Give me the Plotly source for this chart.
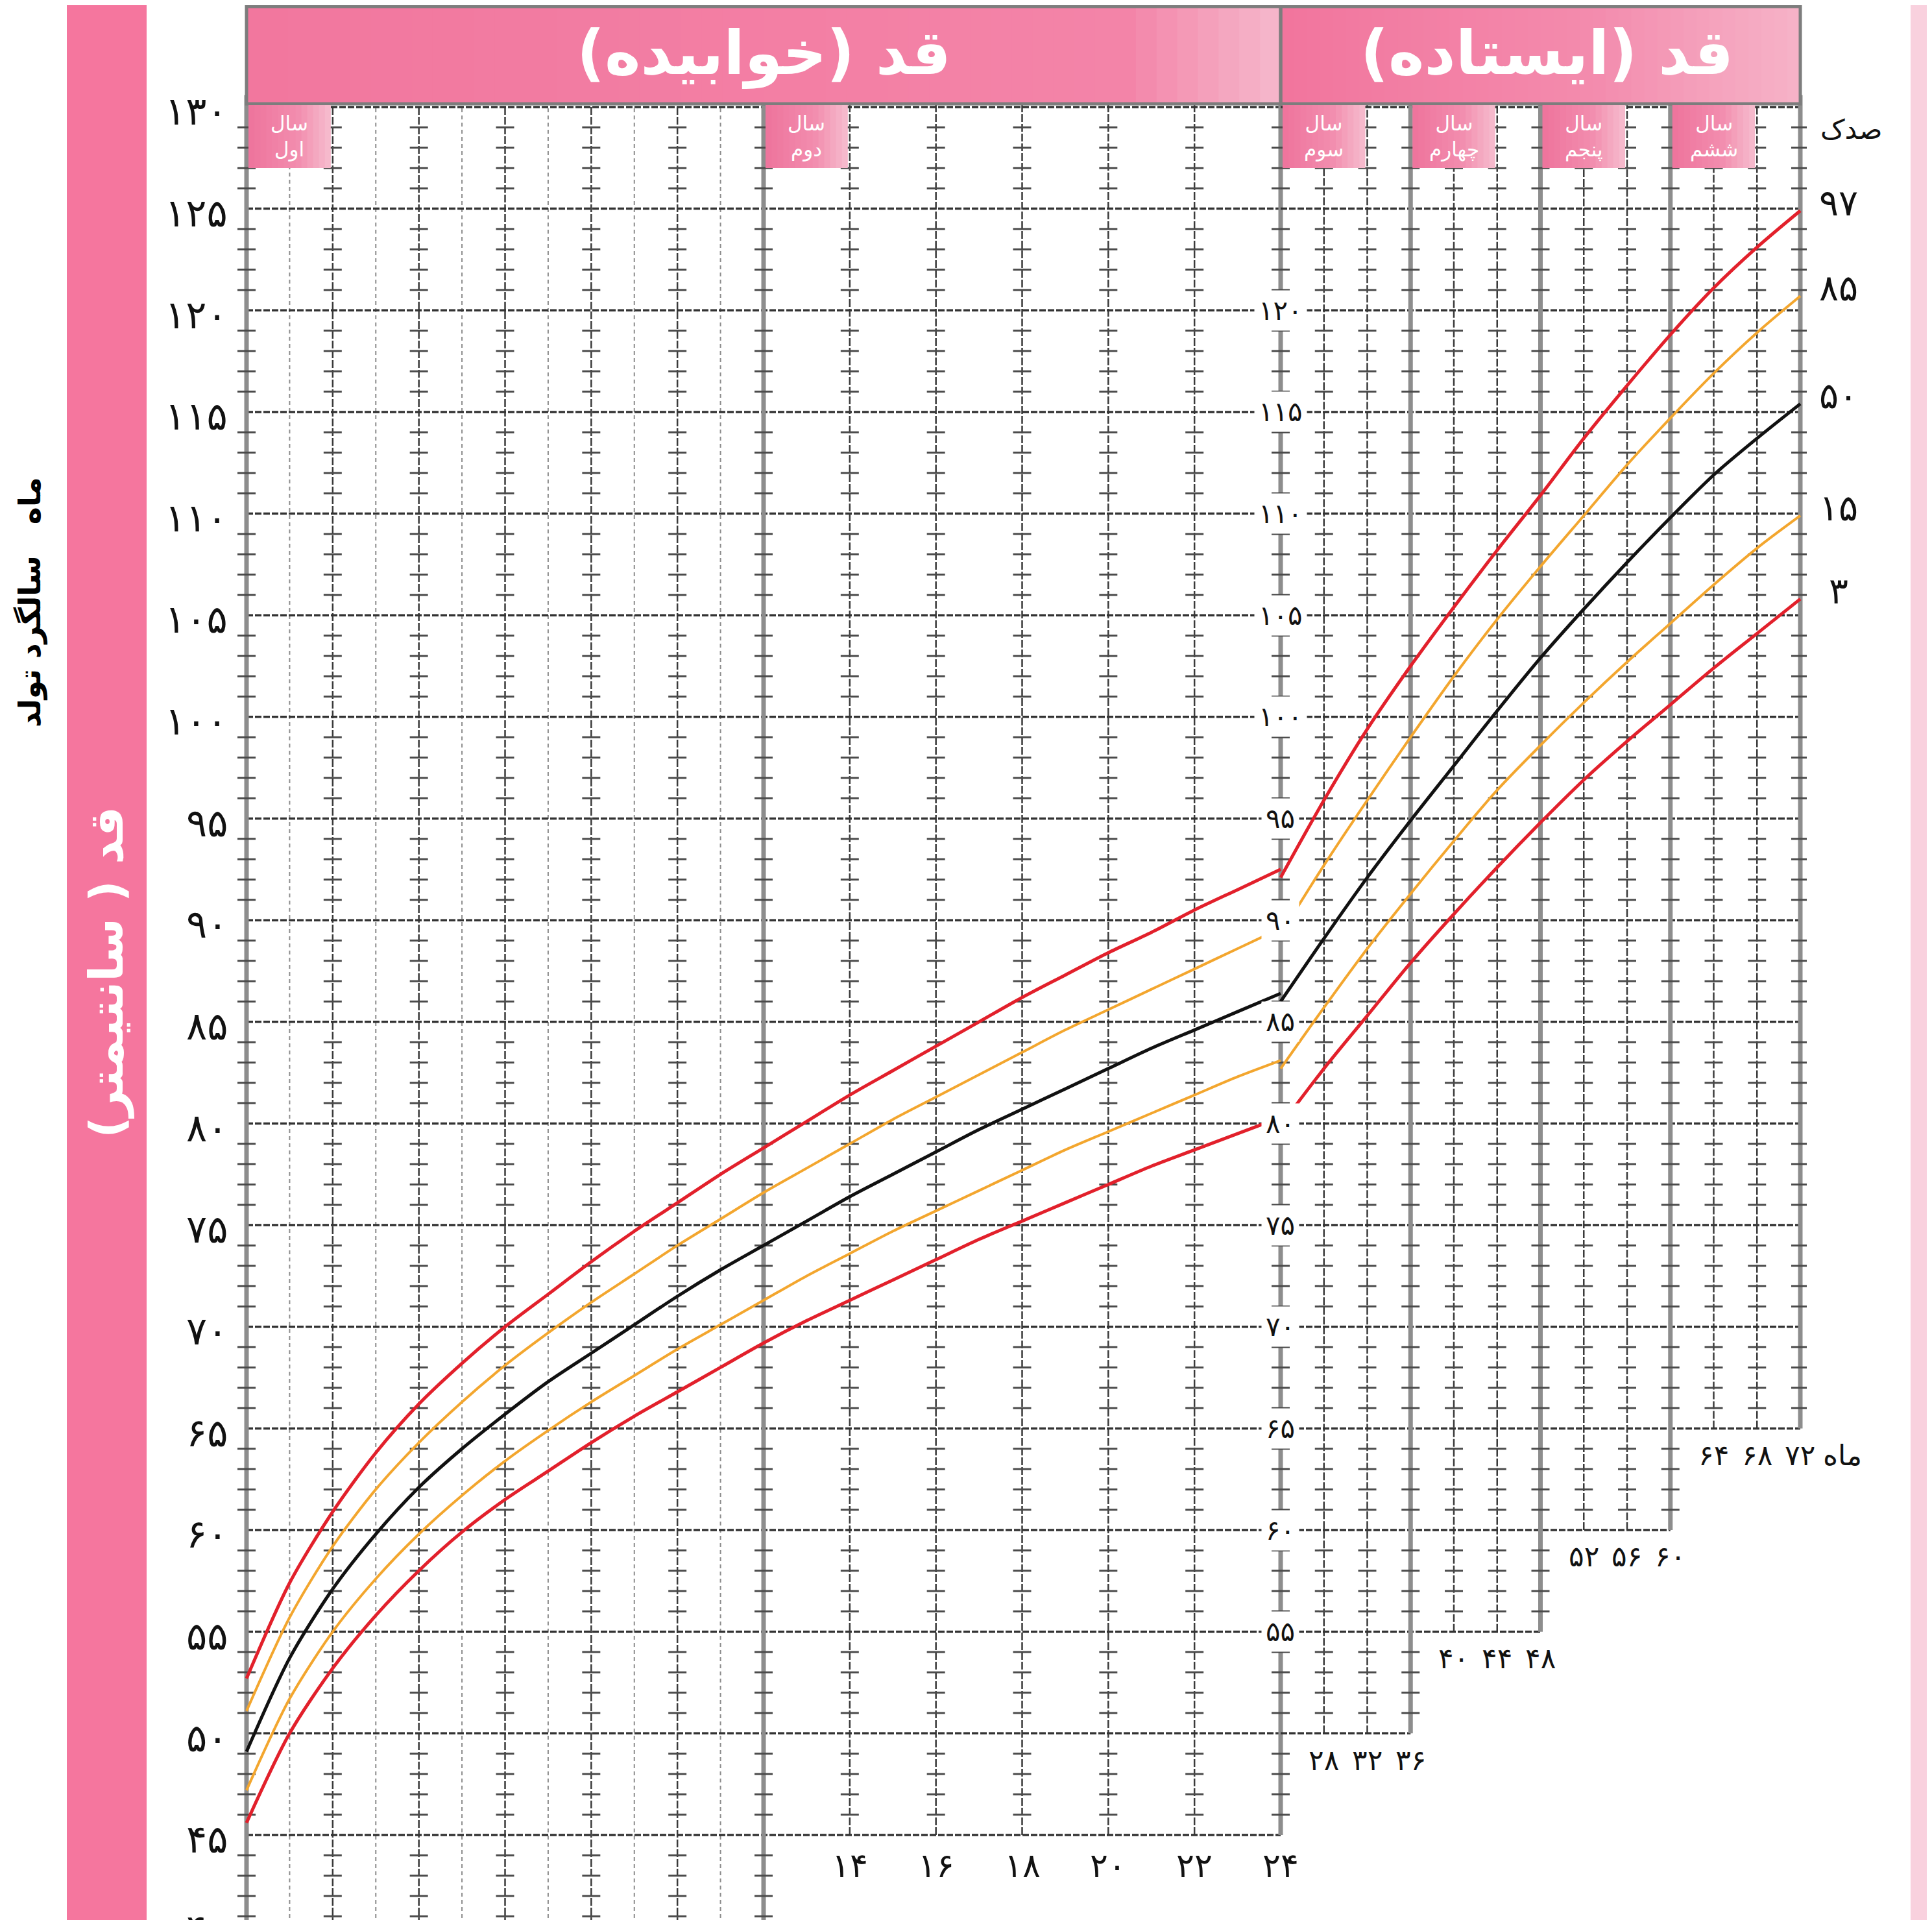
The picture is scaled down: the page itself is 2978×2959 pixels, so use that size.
import plotly.graph_objects as go

W, H = 2978, 2959

# ---------------- data ----------------
months_lying = list(range(0, 25))
p3_lying = [45.6, 50.0, 53.2, 55.8, 58.0, 59.9, 61.5, 62.9, 64.3, 65.6, 66.8, 68.0, 69.2,
            70.3, 71.3, 72.3, 73.3, 74.3, 75.2, 76.1, 77.0, 77.9, 78.7, 79.5, 80.3]
p15_lying = [47.2, 51.7, 55.0, 57.6, 59.8, 61.7, 63.4, 64.9, 66.3, 67.6, 68.9, 70.1, 71.3,
             72.5, 73.6, 74.7, 75.7, 76.7, 77.7, 78.7, 79.6, 80.5, 81.4, 82.3, 83.1]
p50_lying = [49.1, 53.7, 57.1, 59.8, 62.1, 64.0, 65.7, 67.3, 68.7, 70.1, 71.5, 72.8, 74.0,
             75.2, 76.4, 77.5, 78.6, 79.7, 80.7, 81.7, 82.7, 83.7, 84.6, 85.5, 86.4]
p85_lying = [51.1, 55.7, 59.2, 62.0, 64.3, 66.3, 68.1, 69.7, 71.2, 72.6, 74.0, 75.3, 76.6,
             77.8, 79.0, 80.2, 81.3, 82.4, 83.5, 84.6, 85.6, 86.6, 87.6, 88.6, 89.6]
p97_lying = [52.7, 57.4, 60.9, 63.8, 66.2, 68.2, 70.0, 71.6, 73.2, 74.7, 76.1, 77.5, 78.8,
             80.1, 81.4, 82.6, 83.8, 85.0, 86.2, 87.3, 88.4, 89.4, 90.5, 91.5, 92.5]

months_standing = [24, 28, 32, 36, 40, 44, 48, 52, 56, 60, 64, 68, 72]
p3_standing = [79.9, 82.7, 85.3, 87.9, 90.3, 92.6, 94.8, 96.9, 98.8, 100.6, 102.4, 104.1, 105.8]
p15_standing = [82.7, 85.7, 88.6, 91.3, 93.9, 96.4, 98.6, 100.7, 102.7, 104.6, 106.5, 108.3, 109.9]
p50_standing = [86.0, 89.1, 92.1, 94.9, 97.6, 100.3, 102.9, 105.3, 107.6, 109.8, 111.9, 113.7, 115.4]
p85_standing = [89.3, 92.7, 95.9, 99.0, 102.0, 104.8, 107.4, 109.9, 112.4, 114.7, 116.9, 118.9, 120.7]
p97_standing = [92.1, 95.9, 99.4, 102.5, 105.4, 108.2, 110.9, 113.7, 116.3, 118.8, 121.1, 123.1, 124.9]

percentile_names = ["۳", "۱۵", "۵۰", "۸۵", "۹۷"]
left_height_ticks = list(range(45, 131, 5))
right_height_ticks = list(range(55, 121, 5))
lying_month_labels = [14, 16, 18, 20, 22, 24]
standing_month_groups = [[28, 32, 36], [40, 44, 48], [52, 56, 60], [64, 68, 72]]
group_bottoms = [50, 55, 60, 65]
year_boxes_left = [("سال<br>اول", 0, 2), ("سال<br>دوم", 12, 14)]
year_boxes_right = [("سال<br>سوم", 24, 32), ("سال<br>چهارم", 36, 44),
                    ("سال<br>پنجم", 48, 56), ("سال<br>ششم", 60, 68)]

FA = "۰۱۲۳۴۵۶۷۸۹"
def fa(n):
    return "".join(FA[int(c)] for c in str(n))

RLM = "\u200f"

# ---------------- geometry (pixels) ----------------
XL0, XL1, XR1 = 372.0, 1966.0, 2767.0
PXM_L = (XL1 - XL0) / 24.0
PXM_R = (XR1 - XL1) / 48.0
Y45, PXCM = 2820.0, 31.33
HEADER_BOTTOM = 152.0

def xl(m): return XL0 + m * PXM_L
def xr(m): return XL1 + (m - 24) * PXM_R
def yp(h): return Y45 - (h - 45) * PXCM
def px(x): return x / W
def py(y): return 1 - y / H

h_bot = 45 - (H - Y45) / PXCM
h_top = 130.6
L_range = [-0.6, 24.6]
R_range = [23.4, 72.6]

RED = "#E2202B"
ORANGE = "#F3A62E"
BLACK = "#111111"
FONT = "DejaVu Sans"

fig = go.Figure()

def add_segments(segs, xaxis, color, width, dash="solid"):
    xs, ys = [], []
    for (x0, y0, x1, y1) in segs:
        xs += [x0, x1, None]
        ys += [y0, y1, None]
    fig.add_trace(go.Scatter(x=xs, y=ys, mode="lines", xaxis=xaxis, yaxis="y",
                             line=dict(color=color, width=width, dash=dash),
                             hoverinfo="skip", showlegend=False))

# ---- vertical grid lines ----
light_left = [(m, h_bot, m, h_top) for m in [1, 3, 5, 7, 9, 11]]
dark_left = [(m, h_bot, m, h_top) for m in [2, 4, 6, 8, 10]] + \
            [(m, 45, m, h_top) for m in [14, 16, 18, 20, 22]]
thick_left = [(0, h_bot, 0, h_top), (12, h_bot, 12, h_top), (24, 45, 24, h_top)]
dark_right, thick_right = [], []
for grp, b in zip(standing_month_groups, group_bottoms):
    for m in grp[:2]:
        dark_right.append((m, b, m, h_top))
    thick_right.append((grp[2], b, grp[2], h_top))

add_segments(light_left, "x", "#8c8c8c", 2, "6px,5px")
add_segments(dark_left, "x", "#3a3a3a", 2.5, "12px,3px")
add_segments(dark_right, "x2", "#3a3a3a", 2.5, "12px,3px")

# ---- horizontal 5 cm lines ----
h_left = [(0, h, 24, h) for h in range(45, 131, 5)]
right_end = {50: 36, 55: 48, 60: 60}
h_right = [(24, h, right_end.get(h, 72), h) for h in range(50, 131, 5)]
add_segments(h_left, "x", "#333333", 3.5, "10px,3px")
add_segments(h_right, "x2", "#333333", 3.5, "10px,3px")

add_segments(thick_left, "x", "#8d8d8d", 7)
add_segments(thick_right, "x2", "#8d8d8d", 7)

# ---- 1 cm tick marks ----
tx, ty = [], []
for m in [0, 2, 4, 6, 8, 10, 12]:
    for h in range(41, 131):
        if h % 5:
            tx.append(m); ty.append(h)
for m in [14, 16, 18, 20, 22, 24]:
    for h in range(46, 131):
        if h % 5:
            tx.append(m); ty.append(h)
fig.add_trace(go.Scatter(x=tx, y=ty, mode="markers", xaxis="x", yaxis="y",
                         marker=dict(symbol="line-ew", size=20, line=dict(width=3, color="#4a4a4a")),
                         hoverinfo="skip", showlegend=False))
tx, ty = [], []
for grp, b in zip(standing_month_groups, group_bottoms):
    for m in grp:
        for h in range(b + 1, 131):
            if h % 5:
                tx.append(m); ty.append(h)
fig.add_trace(go.Scatter(x=tx, y=ty, mode="markers", xaxis="x2", yaxis="y",
                         marker=dict(symbol="line-ew", size=20, line=dict(width=3, color="#4a4a4a")),
                         hoverinfo="skip", showlegend=False))

# ---- percentile curves ----
lying = [p3_lying, p15_lying, p50_lying, p85_lying, p97_lying]
standing = [p3_standing, p15_standing, p50_standing, p85_standing, p97_standing]
colors = [RED, ORANGE, BLACK, ORANGE, RED]
widths = [5, 4, 5, 4, 5]
for vals, c, w, name in zip(lying, colors, widths, percentile_names):
    fig.add_trace(go.Scatter(x=months_lying, y=vals, mode="lines", xaxis="x", yaxis="y",
                             line=dict(color=c, width=w, shape="spline", smoothing=0.8),
                             name=name, showlegend=False))
for vals, c, w, name in zip(standing, colors, widths, percentile_names):
    fig.add_trace(go.Scatter(x=months_standing, y=vals, mode="lines", xaxis="x2", yaxis="y",
                             line=dict(color=c, width=w, shape="spline", smoothing=0.9),
                             name=name, showlegend=False))

# ---------------- decorations ----------------
shapes = []
annotations = []

def ann(**kw):
    kw.setdefault("showarrow", False)
    kw.setdefault("xanchor", "center")
    kw.setdefault("yanchor", "middle")
    annotations.append(kw)

def hex2rgb(c):
    c = c.lstrip("#")
    return tuple(int(c[i:i + 2], 16) for i in (0, 2, 4))

def grad_color(stops, t):
    for (t0, c0), (t1, c1) in zip(stops[:-1], stops[1:]):
        if t <= t1:
            f = 0 if t1 == t0 else (t - t0) / (t1 - t0)
            a, b = hex2rgb(c0), hex2rgb(c1)
            return "rgb(%d,%d,%d)" % tuple(round(a[i] + (b[i] - a[i]) * f) for i in range(3))
    return stops[-1][1]

def gradient_rect(x0, x1, y0, y1, stops, n=40):
    for i in range(n):
        a = x0 + (x1 - x0) * i / n
        b = x0 + (x1 - x0) * (i + 1) / n + 1.0
        shapes.append(dict(type="rect", xref="paper", yref="paper",
                           x0=px(a), x1=px(min(b, x1)), y0=py(y1), y1=py(y0),
                           fillcolor=grad_color(stops, (i + 0.5) / n),
                           line=dict(width=0), layer="above"))

# pink side bars
shapes.append(dict(type="rect", xref="paper", yref="paper", x0=px(95), x1=px(218), y0=0, y1=1,
                   fillcolor="#F5769E", line=dict(width=0), layer="above"))
shapes.append(dict(type="rect", xref="paper", yref="paper", x0=px(2937), x1=1, y0=0, y1=1,
                   fillcolor="#F9D1DE", line=dict(width=0), layer="above"))

# headers
gradient_rect(XL0, XL1, 0, HEADER_BOTTOM,
              [(0, "#F2779E"), (0.85, "#F384A8"), (1, "#F5B9CC")], n=50)
gradient_rect(XL1, XR1, 0, HEADER_BOTTOM,
              [(0, "#F2759D"), (0.6, "#F38BAD"), (1, "#F6B3C8")], n=40)
for a, b in [(XL0, XL1), (XL1, XR1)]:
    shapes.append(dict(type="rect", xref="paper", yref="paper", x0=px(a), x1=px(b),
                       y0=py(HEADER_BOTTOM), y1=py(2), fillcolor="rgba(0,0,0,0)",
                       line=dict(color="#7d7d7d", width=5), layer="above"))

# year boxes
box_stops = [(0, "#EE739C"), (0.6, "#F28DAE"), (1, "#F6BDCF")]
box_y0, box_y1 = HEADER_BOTTOM + 2, yp(127.0)
for boxes, xf in [(year_boxes_left, xl), (year_boxes_right, xr)]:
    for text, m0, m1 in boxes:
        gradient_rect(xf(m0) + 3, xf(m1) - 3, box_y0, box_y1, box_stops, n=14)
        ann(xref="paper", yref="paper", x=px((xf(m0) + xf(m1)) / 2),
            y=py((box_y0 + box_y1) / 2), text=text, align="center",
            font=dict(family=FONT, size=31, color="white"))

# header titles
ann(xref="paper", yref="paper", x=px((XL0 + XL1) / 2), y=py(74),
    text=RLM + "قد (خوابیده)" + RLM,
    font=dict(family=FONT, size=94, color="white", weight="bold"))
ann(xref="paper", yref="paper", x=px((XL1 + XR1) / 2 + 10), y=py(74),
    text=RLM + "قد (ایستاده)" + RLM,
    font=dict(family=FONT, size=94, color="white", weight="bold"))

# side titles
ann(xref="paper", yref="paper", x=px(156), y=py(1491), textangle=-90,
    text=RLM + "قد ( سانتیمتر)" + RLM,
    font=dict(family=FONT, size=72, color="white", weight="bold"))
ann(xref="paper", yref="paper", x=px(38), y=py(920), textangle=-90,
    text="ماه   سالگرد تولد",
    font=dict(family=FONT, size=46, color="black", weight="bold"))

# left height labels
for h in left_height_ticks:
    ann(xref="paper", yref="y", x=px(345), y=h - 0.2, xanchor="right", text=fa(h),
        font=dict(family=FONT, size=60, color="#111"))
ann(xref="paper", yref="paper", x=px(345), y=py(yp(40.4)), xanchor="right", text=fa(40),
    font=dict(family=FONT, size=60, color="#111"))

# height labels on the 24-month line (white backgrounds)
for h in right_height_ticks:
    ann(xref="x2", yref="y", x=24, y=h, text=fa(h), bgcolor="white", borderpad=6,
        font=dict(family=FONT, size=42, color="#111"))

# month labels
for m in lying_month_labels:
    ann(xref="x", yref="y", x=m, y=43.5, text=fa(m),
        font=dict(family=FONT, size=52, color="#111"))
for grp, b in zip(standing_month_groups, group_bottoms):
    for m in grp:
        ann(xref="x2", yref="y", x=m, y=b - 1.3, text=fa(m),
            font=dict(family=FONT, size=44, color="#111"))
ann(xref="paper", yref="y", x=px(2832), y=group_bottoms[-1] - 1.3, text="ماه",
    font=dict(family=FONT, size=44, color="#111"))

# percentile labels
for vals, name in zip(standing, percentile_names):
    ann(xref="paper", yref="y", x=px(2826), y=vals[-1] + 0.4, text=name,
        font=dict(family=FONT, size=56, color="#111"))
ann(xref="paper", yref="paper", x=px(2845), y=py(192), text="صدک",
    font=dict(family=FONT, size=42, color="#111"))

# ---------------- layout ----------------
def dom_l(r): return [px(xl(r[0])), px(xl(r[1]))]
def dom_r(r): return [px(xr(r[0])), px(xr(r[1]))]

fig.update_layout(
    width=W, height=H,
    margin=dict(l=0, r=0, t=0, b=0),
    paper_bgcolor="white", plot_bgcolor="rgba(0,0,0,0)",
    font=dict(family=FONT),
    showlegend=False,
    xaxis=dict(domain=dom_l(L_range), range=L_range, visible=False, anchor="y", fixedrange=True),
    xaxis2=dict(domain=dom_r(R_range), range=R_range, visible=False, anchor="y", fixedrange=True),
    yaxis=dict(domain=[0, py(yp(h_top))], range=[h_bot, h_top], visible=False, fixedrange=True),
    shapes=shapes,
    annotations=annotations,
)

fig.write_html("out.html")
